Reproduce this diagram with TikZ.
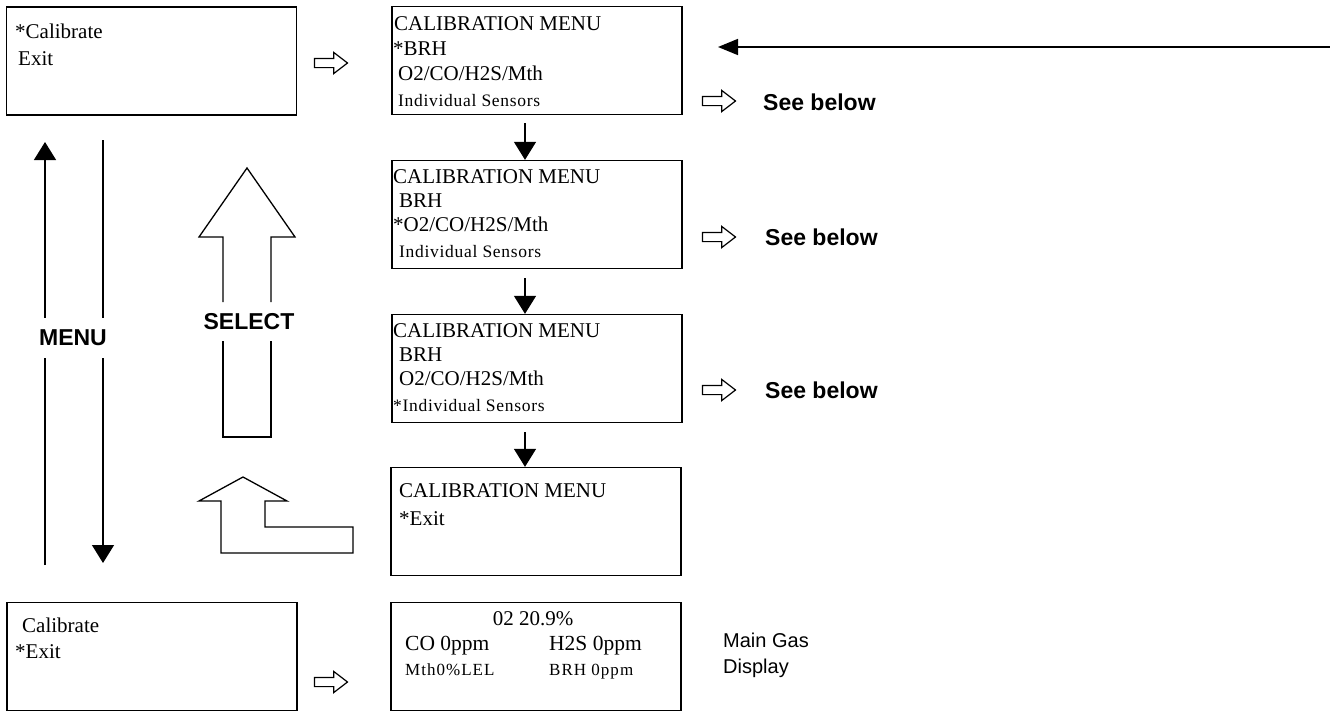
\documentclass[tikz,border=0pt]{standalone}
\usepackage{fontspec}
\setmainfont{Liberation Serif}
\setsansfont{Liberation Sans}
\usepackage{tikz}
\usetikzlibrary{arrows.meta,shapes.arrows}
\tikzset{
every picture/.style={line join=miter},
screen/.style={draw, line width=1.3pt, minimum width=290pt, minimum height=108pt, inner sep=0pt},
lcd line/.style={anchor=base west, inner sep=0pt, font=\fontsize{21}{25}\selectfont},
lcd small/.style={lcd line, font=\fontsize{17.5}{20}\selectfont\addfontfeature{LetterSpace=4}},
lcd tiny/.style={lcd line, font=\fontsize{17}{20}\selectfont\addfontfeature{LetterSpace=6}},
key label/.style={inner sep=0pt, minimum height=40pt, font=\sffamily\bfseries\fontsize{23}{28}\selectfont},
note label/.style={anchor=base west, inner sep=0pt, font=\sffamily\fontsize{20}{24}\selectfont},
see label/.style={note label, font=\sffamily\bfseries\fontsize{23}{28}\selectfont},
flow/.style={line width=1.3pt, -{Triangle[length=18pt,width=22pt]}},
back flow/.style={line width=1.6pt, -{Triangle[length=20pt,width=16pt]}},
plain line/.style={line width=1.3pt},
hollow/.style={draw, line width=1.3pt},
hollow arrow/.style={single arrow, draw, line width=1.2pt, minimum height=33pt,
  minimum width=20pt, single arrow head extend=6pt, inner sep=4pt, single arrow tip angle=75}
}
\begin{document}
\begin{tikzpicture}[x=1pt,y=-1pt]
\useasboundingbox (0,0) rectangle (1330,712);
% main menu, calibrate selected
\node[screen] (calibA) at (151.5,61) {};
\node[lcd line] (calibA1) at (15,38) {*Calibrate};
\node[lcd line] (calibA2) at (18,65) {Exit};
\node[hollow arrow] (goB) at (328,63) {};
% calibration menu screens
\node[screen] (calibB) at (537,60.5) {};
\node[lcd line] (calibB1) at (394,30) {CALIBRATION MENU};
\node[lcd line] (calibB2) at (393,55) {*BRH};
\node[lcd line] (calibB3) at (398,80) {O2/CO/H2S/Mth};
\node[lcd small] (calibB4) at (398,106) {Individual Sensors};
\node[screen] (calibC) at (537,214.5) {};
\node[lcd line] (calibC1) at (393,183) {CALIBRATION MENU};
\node[lcd line] (calibC2) at (399,207) {BRH};
\node[lcd line] (calibC3) at (393,231) {*O2/CO/H2S/Mth};
\node[lcd small] (calibC4) at (399,257) {Individual Sensors};
\node[screen] (calibD) at (537,368.5) {};
\node[lcd line] (calibD1) at (393,337) {CALIBRATION MENU};
\node[lcd line] (calibD2) at (399,361) {BRH};
\node[lcd line] (calibD3) at (399,385) {O2/CO/H2S/Mth};
\node[lcd small] (calibD4) at (393,411) {*Individual Sensors};
\node[screen] (calibE) at (536,521.5) {};
\node[lcd line] (calibE1) at (399,497) {CALIBRATION MENU};
\node[lcd line] (calibE2) at (399,525) {*Exit};
% see below pointers
\node[hollow arrow] (seeB) at (716,101) {};
\node[see label] (seeBtxt) at (763,110) {See below};
\node[hollow arrow] (seeC) at (716,237) {};
\node[see label] (seeCtxt) at (765,245) {See below};
\node[hollow arrow] (seeD) at (716,390) {};
\node[see label] (seeDtxt) at (765,398) {See below};
\coordinate (backIn) at (1330,47);
\coordinate (backTip) at (718,47);
\draw[back flow] (backIn) -- (backTip);
\draw[flow] ([xshift=-12pt,yshift=-8pt]calibB.south) -- ([xshift=-12pt]calibC.north);
\draw[flow] ([xshift=-12pt,yshift=-9pt]calibC.south) -- ([xshift=-12pt]calibD.north);
\draw[flow] ([xshift=-12pt,yshift=-9pt]calibD.south) -- ([xshift=-11pt]calibE.north);
% menu / select keys
\node[key label] (menu) at (73,338) {MENU};
\coordinate (upFoot) at (45,565);
\coordinate (upTip) at (45,142);
\coordinate (downTop) at (103,140);
\coordinate (downTip) at (103,563);
\draw[plain line] (upFoot) -- (upFoot |- menu.south);
\draw[flow] (upFoot |- menu.north) -- (upTip);
\draw[plain line] (downTop) -- (downTop |- menu.north);
\draw[flow] (downTop |- menu.south) -- (downTip);
\node[key label, minimum height=39pt] (select) at (249,321.5) {SELECT};
\draw[hollow] (223,302) -- (223,237) -- (199,237) -- (247,168) -- (295,237) -- (271,237) -- (271,302);
\draw[hollow] (223,341) -- (223,437) -- (271,437) -- (271,341);
\draw[hollow] (243,477) -- (287,501) -- (265,501) -- (265,527) -- (353,527) -- (353,553)
  -- (221,553) -- (221,501) -- (199,501) -- cycle;
% exit selected, back to gas display
\node[screen] (calibF) at (152,656.5) {};
\node[lcd line] (calibF1) at (22,632) {Calibrate};
\node[lcd line] (calibF2) at (15,658) {*Exit};
\node[hollow arrow] (goG) at (328,682) {};
\node[screen] (gasG) at (536,656.5) {};
\node[lcd line, anchor=base] (gasG1) at (533,625) {02 20.9\%};
\node[lcd line, font=\fontsize{21.5}{25}\selectfont] (gasG2) at (405,650) {CO 0ppm};
\node[lcd line, font=\fontsize{21.5}{25}\selectfont] (gasG3) at (549,650) {H2S 0ppm};
\node[lcd tiny] (gasG4) at (405,675) {Mth0\%LEL};
\node[lcd tiny] (gasG5) at (549,675) {BRH 0ppm};
\node[note label] (mainGas) at (723,647) {Main Gas};
\node[note label] (display) at (723,673) {Display};
\end{tikzpicture}
\end{document}
